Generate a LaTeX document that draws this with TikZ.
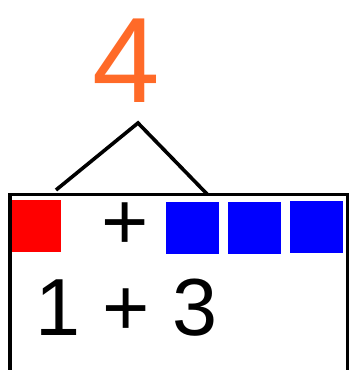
\documentclass[tikz,border=0pt]{standalone}
\usepackage{fontspec}
\setmainfont{Liberation Sans}
\definecolor{numorange}{HTML}{FF6A28}
\begin{document}
\begin{tikzpicture}[x=1pt,y=-1pt,
  redsq/.style={fill=red, draw=none, inner sep=0pt, minimum width=49pt, minimum height=52pt},
  bluesq/.style={fill=blue, draw=none, inner sep=0pt, minimum width=53pt, minimum height=52pt},
  bigtxt/.style={font=\fontsize{81}{81}\selectfont, inner sep=0pt, anchor=base},
  line/.style={line width=3.6pt}]
\useasboundingbox (0,0) rectangle (349,370);
\node[font=\fontsize{121.5}{121.5}\selectfont, text=numorange, anchor=base, inner sep=0pt] (four) at (126,102) {4};
\coordinate (apex) at (138,123);
\coordinate (tl) at (56,190);
\coordinate (tr) at (207,194);
\draw[line, line join=miter] (tl) -- (apex) -- (tr);
\coordinate (tlc) at (10.3,194.5);
\coordinate (brc) at (347.5,371.5);
\draw[line width=3.8pt] (tlc) rectangle (brc);
\node[redsq] (r1) at (36.5,226) {};
\node[bigtxt] (plus) at (125,249) {+};
\node[bluesq] (b1) at (192.5,228) {};
\node[bluesq] (b2) at (254.5,228) {};
\node[bluesq] (b3) at (316.5,226.5) {};
\node[bigtxt, anchor=base west] (sum) at (35,335) {1 + 3};
\end{tikzpicture}
\end{document}
